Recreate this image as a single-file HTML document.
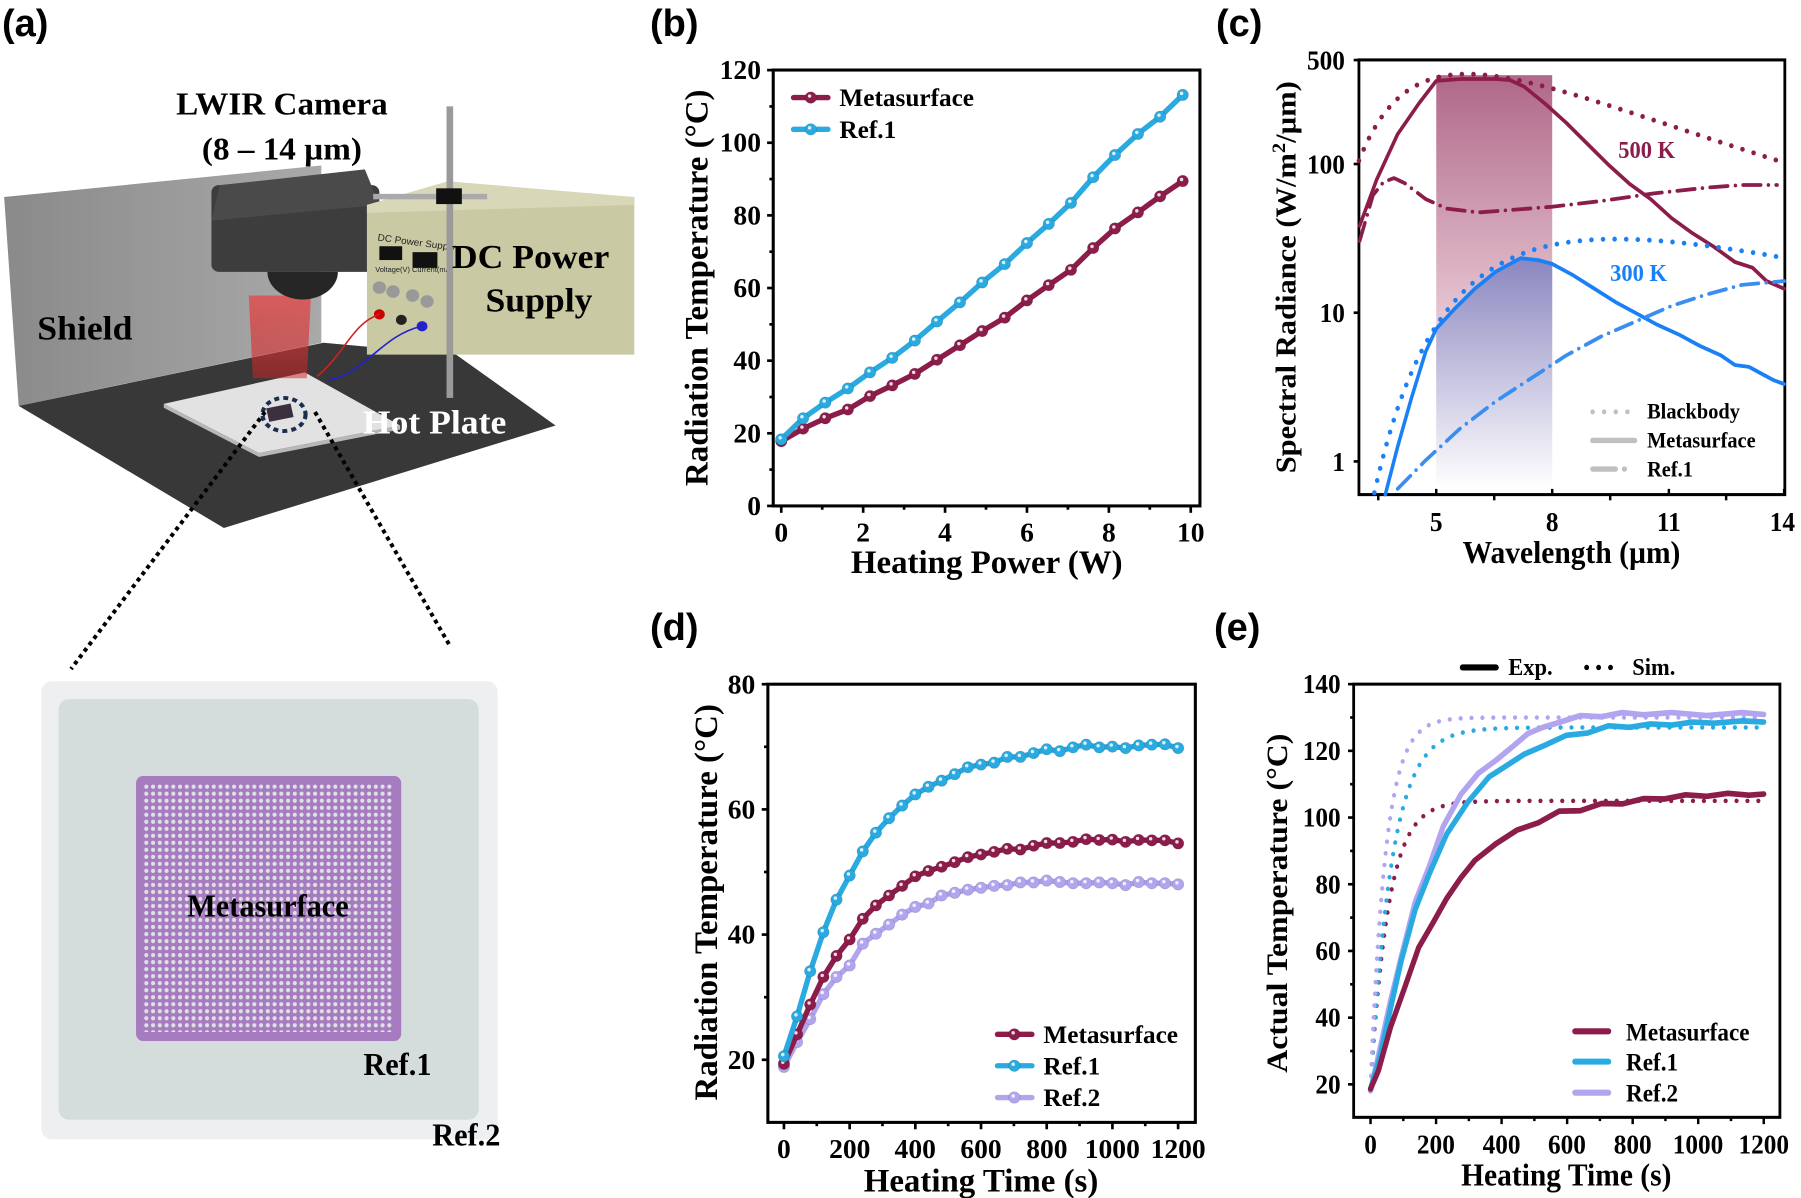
<!DOCTYPE html>
<html><head><meta charset="utf-8"><style>
html,body{margin:0;padding:0;background:#fff}
svg{display:block}
.t{font-family:"Liberation Serif",serif;font-weight:bold;fill:#000}
.L{font-family:"Liberation Sans",sans-serif;font-weight:bold;fill:#000;font-size:38px}
</style></head><body>
<svg id="s" width="1801" height="1198" viewBox="0 0 1801 1198" xmlns="http://www.w3.org/2000/svg">
<defs>
<linearGradient id="wall" x1="0" y1="0" x2="1" y2="0"><stop offset="0" stop-color="#8a8a8a"/><stop offset="1" stop-color="#a9a9a9"/></linearGradient>
<linearGradient id="beam" x1="0" y1="0" x2="0" y2="1"><stop offset="0" stop-color="#e05050" stop-opacity=".85"/><stop offset="1" stop-color="#d02020" stop-opacity=".5"/></linearGradient>
<linearGradient id="band" x1="0" y1="0" x2="0" y2="1"><stop offset="0" stop-color="#b06888"/><stop offset=".6" stop-color="#e8c8d4"/><stop offset="1" stop-color="#ffffff"/></linearGradient>
<linearGradient id="bandb" x1="0" y1="0" x2="0" y2="1"><stop offset="0" stop-color="#8282c0"/><stop offset="1" stop-color="#ffffff"/></linearGradient>
<pattern id="dots" x="415" y="400" width="19.6" height="19.6" patternUnits="userSpaceOnUse"><circle cx="9.8" cy="9.8" r="6" fill="#dde2e4"/></pattern>
</defs>

<text class="L" x="2" y="36">(a)</text>
<text class="L" x="650" y="36">(b)</text>
<text class="L" x="1216" y="36">(c)</text>
<text class="L" x="650" y="640">(d)</text>
<text class="L" x="1214" y="640">(e)</text>

<!-- Panel a top -->
<g transform="scale(0.4146,0.394)">
<polygon points="10,500 775,420 775,870 45,1030" fill="url(#wall)"/>
<polygon points="45,1030 780,870 1100,900 1340,1080 540,1340" fill="#383838"/>
<polygon points="395,1025 735,945 965,1080 625,1150" fill="#e2e2e2"/>
<polygon points="395,1025 625,1150 965,1080 965,1090 625,1160 395,1035" fill="#b8b8b8"/>
<polygon points="600,750 750,750 740,960 610,960" fill="url(#beam)"/>
<rect x="510" y="470" width="405" height="220" rx="18" fill="#3d3d3d"/>
<polygon points="530,470 880,430 915,520 510,560" fill="#4a4a4a"/>
<path d="M645,690 A85,70 0 0 0 815,690 Z" fill="#262626"/>
<polygon points="885,520 1530,500 1530,900 885,900" fill="#c9c9a3"/>
<polygon points="885,520 1080,460 1530,500 1530,520 885,540" fill="#d8d8b8"/>
<rect x="915" y="625" width="55" height="35" fill="#111"/>
<rect x="995" y="640" width="60" height="40" fill="#111"/>
<text x="910" y="610" font-family="Liberation Sans" font-size="24" fill="#222" transform="rotate(8 910 610)">DC Power Supply</text>
<text x="905" y="690" font-family="Liberation Sans" font-size="18" fill="#222">Voltage(V) Current(mA)</text>
<circle cx="915" cy="730" r="16" fill="#999"/><circle cx="948" cy="740" r="16" fill="#999"/>
<circle cx="995" cy="750" r="16" fill="#999"/><circle cx="1030" cy="765" r="16" fill="#999"/>
<circle cx="915" cy="798" r="13" fill="#c00"/><circle cx="968" cy="812" r="13" fill="#222"/><circle cx="1018" cy="828" r="13" fill="#22c"/>
<path d="M915,798 C850,820 830,900 765,955" stroke="#c22" stroke-width="4" fill="none"/>
<path d="M1018,828 C920,850 880,950 790,965" stroke="#22c" stroke-width="4" fill="none"/>
<rect x="900" y="492" width="275" height="14" fill="#aaa"/>
<rect x="1077" y="270" width="16" height="740" fill="#9a9a9a"/>
<rect x="1052" y="478" width="62" height="40" fill="#111"/>
<rect x="645" y="1030" width="60" height="35" fill="#3a3040" transform="rotate(-12 675 1047)"/>
<ellipse cx="685" cy="1052" rx="52" ry="42" fill="none" stroke="#1a2f50" stroke-width="10" stroke-dasharray="12 10"/>
<text class="t" x="680" y="290" font-size="80" text-anchor="middle">LWIR Camera</text>
<text class="t" x="680" y="405" font-size="80" text-anchor="middle">(8 – 14 µm)</text>
<text class="t" x="1090" y="680" font-size="86">DC Power</text>
<text class="t" x="1300" y="790" font-size="86" text-anchor="middle">Supply</text>
<text class="t" x="90" y="862" font-size="86">Shield</text>
<text class="t" x="875" y="1100" font-size="86" style="fill:#fff">Hot Plate</text>
</g>
<line x1="265" y1="412" x2="71" y2="669" stroke="#000" stroke-width="4" stroke-dasharray="4 4"/>
<line x1="315" y1="412" x2="450" y2="646" stroke="#000" stroke-width="4" stroke-dasharray="4 4"/>

<!-- Panel a bottom -->
<g transform="translate(0,640) scale(0.3444,0.358)">
<rect x="120" y="115" width="1325" height="1280" rx="30" fill="#eeeff0"/>
<rect x="170" y="165" width="1220" height="1175" rx="30" fill="#d5dcdc"/>
<rect x="395" y="380" width="770" height="740" rx="20" fill="#a77bc0"/>
<rect x="415" y="400" width="725" height="695" fill="url(#dots)"/>
<text class="t" x="778" y="772" font-size="88" text-anchor="middle">Metasurface</text>
<text class="t" x="1055" y="1215" font-size="88">Ref.1</text>
<text class="t" x="1255" y="1412" font-size="88">Ref.2</text>
</g>

<!-- Panel b -->
<g id="pb" transform="translate(650,0) scale(0.3827)">
<rect x="322" y="183" width="1115" height="1139" fill="none" stroke="#000" stroke-width="8"/>
<g class="t" font-size="72" text-anchor="end">
<text x="290" y="206">120</text><text x="290" y="396">100</text><text x="290" y="586">80</text><text x="290" y="776">60</text><text x="290" y="966">40</text><text x="290" y="1156">20</text><text x="290" y="1346">0</text></g>
<g class="t" font-size="72" text-anchor="middle">
<text x="343" y="1415">0</text><text x="557" y="1415">2</text><text x="771" y="1415">4</text><text x="985" y="1415">6</text><text x="1199" y="1415">8</text><text x="1413" y="1415">10</text></g>
<text class="t" font-size="86" text-anchor="middle" transform="translate(150,752) rotate(-90)">Radiation Temperature (°C)</text>
<text class="t" font-size="86" text-anchor="middle" x="880" y="1497">Heating Power (W)</text>
<text class="t" font-size="66" x="495" y="277">Metasurface</text>
<text class="t" font-size="66" x="495" y="360">Ref.1</text>
</g>

<!-- Panel c -->
<g id="pc" transform="translate(1250,-3) scale(0.3514,0.3813)">
<g id="cband"></g>
<rect x="310" y="165" width="1212" height="1140" fill="none" stroke="#000" stroke-width="8"/>
<g class="t" font-size="72" text-anchor="end">
<text x="270" y="190">500</text><text x="270" y="463">100</text><text x="270" y="853">10</text><text x="270" y="1243">1</text></g>
<g class="t" font-size="72" text-anchor="middle">
<text x="530" y="1400">5</text><text x="860" y="1400">8</text><text x="1192" y="1400">11</text><text x="1515" y="1400">14</text></g>
<text class="t" font-size="80" text-anchor="middle" transform="translate(130,735) rotate(-90)">Spectral Radiance (W/m<tspan font-size="54" dy="-30">2</tspan><tspan dy="30">/µm)</tspan></text>
<text class="t" font-size="84" text-anchor="middle" x="915" y="1485">Wavelength (µm)</text>
<text class="t" font-size="64" x="1048" y="422" style="fill:#8c1d4b">500 K</text>
<text class="t" font-size="64" x="1025" y="745" style="fill:#1a80f5">300 K</text>
<text class="t" font-size="58" x="1130" y="1105">Blackbody</text>
<text class="t" font-size="58" x="1130" y="1182">Metasurface</text>
<text class="t" font-size="58" x="1130" y="1258">Ref.1</text>
</g>

<!-- Panel d -->
<g id="pd" transform="translate(650,600) scale(0.3827)">
<rect x="308" y="220" width="1117" height="1145" fill="none" stroke="#000" stroke-width="8"/>
<g class="t" font-size="72" text-anchor="end">
<text x="275" y="244">80</text><text x="275" y="571">60</text><text x="275" y="898">40</text><text x="275" y="1225">20</text></g>
<g class="t" font-size="72" text-anchor="middle">
<text x="350" y="1458">0</text><text x="522" y="1458">200</text><text x="693" y="1458">400</text><text x="865" y="1458">600</text><text x="1037" y="1458">800</text><text x="1208" y="1458">1000</text><text x="1380" y="1458">1200</text></g>
<text class="t" font-size="86" text-anchor="middle" transform="translate(175,790) rotate(-90)">Radiation Temperature (°C)</text>
<text class="t" font-size="86" text-anchor="middle" x="865" y="1545">Heating Time (s)</text>
<text class="t" font-size="66" x="1028" y="1158">Metasurface</text>
<text class="t" font-size="66" x="1028" y="1240">Ref.1</text>
<text class="t" font-size="66" x="1028" y="1322">Ref.2</text>
</g>

<!-- Panel e -->
<g id="pe" transform="translate(1250,600) scale(0.3514,0.379)">
<rect x="295" y="222" width="1213" height="1143" fill="none" stroke="#000" stroke-width="8"/>
<g class="t" font-size="72" text-anchor="end">
<text x="258" y="246">140</text><text x="258" y="422">120</text><text x="258" y="598">100</text><text x="258" y="774">80</text><text x="258" y="950">60</text><text x="258" y="1126">40</text><text x="258" y="1302">20</text></g>
<g class="t" font-size="72" text-anchor="middle">
<text x="343" y="1460">0</text><text x="529" y="1460">200</text><text x="716" y="1460">400</text><text x="902" y="1460">600</text><text x="1089" y="1460">800</text><text x="1275" y="1460">1000</text><text x="1462" y="1460">1200</text></g>
<text class="t" font-size="84" text-anchor="middle" transform="translate(105,800) rotate(-90)">Actual Temperature (°C)</text>
<text class="t" font-size="84" text-anchor="middle" x="900" y="1545">Heating Time (s)</text>
<text class="t" font-size="64" x="735" y="198">Exp.</text>
<text class="t" font-size="64" x="1088" y="198">Sim.</text>
<text class="t" font-size="66" x="1070" y="1162">Metasurface</text>
<text class="t" font-size="66" x="1070" y="1242">Ref.1</text>
<text class="t" font-size="66" x="1070" y="1323">Ref.2</text>
</g>
</svg>
<script>
const NS="http://www.w3.org/2000/svg";
function add(g,tag,attrs,first){const e=document.createElementNS(NS,tag);for(const k in attrs)e.setAttribute(k,attrs[k]);if(first)g.insertBefore(e,g.firstChild);else g.appendChild(e);return e;}
function P(p){return 'M'+p.map(q=>q[0].toFixed(1)+','+q[1].toFixed(1)).join('L');}
function line(g,pts,col,w,dash){const a={d:P(pts),fill:'none',stroke:col,'stroke-width':w,'stroke-linejoin':'round','stroke-linecap':'round'};if(dash)a['stroke-dasharray']=dash;return add(g,'path',a);}
function marks(g,pts,col){pts.forEach(p=>{add(g,'circle',{cx:p[0],cy:p[1],r:15,fill:col,stroke:'rgba(0,0,0,0.15)','stroke-width':2});add(g,'circle',{cx:p[0]-3,cy:p[1]-4,r:4.5,fill:'#fff','fill-opacity':.85});});}
function tick(g,x1,y1,x2,y2){add(g,'line',{x1,y1,x2,y2,stroke:'#000','stroke-width':7});}
const M='#8c1d4b',R1='#29aae1',R2='#b3a4f0';

(function(){const g=document.getElementById('pb');
for(let v=0;v<=120;v+=20){const y=1322-v*9.49;tick(g,322,y,306,y);} for(let v=10;v<120;v+=20){const y=1322-v*9.49;tick(g,322,y,312,y);}
for(let v=0;v<=10;v++){const x=343+107*v;tick(g,x,1322,x,v%2?1332:1340);}
const xs=[343,400,458,517,575,633,692,750,810,868,927,985,1042,1100,1158,1215,1275,1333,1392];
const m=[1153,1120,1093,1070,1035,1007,977,940,902,865,830,785,745,705,648,597,555,513,473];
const r=[1148,1093,1052,1015,973,935,890,840,790,738,690,635,585,530,463,405,350,305,248];
const pm=xs.map((x,i)=>[x,m[i]]),pr=xs.map((x,i)=>[x,r[i]]);
line(g,pm,M,14);marks(g,pm,M);line(g,pr,R1,14);marks(g,pr,R1);
line(g,[[375,255],[465,255]],M,14);marks(g,[[420,255]],M);
line(g,[[375,338],[465,338]],R1,14);marks(g,[[420,338]],R1);
})();

(function(){const g=document.getElementById('pc');
const X=w=>530+110*(w-5),Y=v=>1218-390*Math.log10(v);
function bb(l,T){return 3.7418e8/(Math.pow(l,5)*(Math.exp(14388/(l*T))-1));}
function bbpts(T){const a=[];for(let l=3.0;l<=14.001;l+=0.05){const v=bb(l,T);let y=Y(v);if(y>1305)continue;a.push([X(l),y]);}return a;}
const ms=[[312,600],[360,480],[420,360],[480,280],[530,220],[600,215],[700,215],[740,218],[780,235],[840,280],[900,330],[960,385],[1020,440],[1080,490],[1140,530],[1200,580],[1260,620],[1320,655],[1380,695],[1430,710],[1470,745],[1520,765]];
const rs=[[312,640],[350,520],[380,485],[410,475],[440,488],[500,530],[560,555],[650,565],[750,558],[860,550],[1000,535],[1150,515],[1300,500],[1400,493],[1500,493]];
const mb=[[385,1305],[420,1180],[460,1050],[500,930],[530,870],[580,820],[640,765],[700,720],[770,685],[820,690],[860,700],[920,730],[980,765],[1040,800],[1100,830],[1160,860],[1220,885],[1280,915],[1340,940],[1380,965],[1420,970],[1460,990],[1490,1005],[1520,1015]];
const rb=[[420,1290],[500,1215],[600,1130],[700,1060],[800,1000],[900,940],[1000,890],[1100,850],[1200,810],[1300,780],[1400,755],[1520,745]];
const cb=document.getElementById('cband');
add(cb,'rect',{x:530,y:205,width:330,height:1085,fill:'url(#band)'});
const under=[[530,870],[580,820],[640,765],[700,720],[770,685],[820,690],[860,700],[860,1290],[530,1290]];
add(cb,'path',{d:P(under)+'Z',fill:'url(#bandb)','fill-opacity':.9});
[365,530,695,860,1025,1192,1355,1520].forEach((x,i)=>tick(g,x,1305,x,i%2?1290:1320));
[Y(1),Y(10),Y(100),Y(500)].forEach(y=>tick(g,310,y,295,y));
line(g,bbpts(500),M,13,'0 33');
line(g,ms,M,10);
line(g,rs,M,10,'50 22 0 22');
line(g,bbpts(300),'#1a80f5',13,'0 33');
line(g,mb,'#1a80f5',10);
line(g,rb,'#3a8ef0',10,'50 22 0 22');
line(g,[[975,1088],[1095,1088]],'#c0c0c0',13,'0 33');
line(g,[[975,1163],[1095,1163]],'#c0c0c0',14);
line(g,[[975,1238],[1040,1238]],'#c0c0c0',14);line(g,[[1065,1238],[1066,1238]],'#c0c0c0',14);
})();

(function(){const g=document.getElementById('pd');
const Y=v=>1365-16.357*(v-10);
for(let v=20;v<=80;v+=20)tick(g,308,Y(v),292,Y(v));for(let v=30;v<80;v+=20)tick(g,308,Y(v),298,Y(v));
for(let t=0;t<=1200;t+=100){const x=350+0.8583*t;tick(g,x,1365,x,t%200?1375:1383);}
const r=[1192,1088,970,868,783,720,657,608,570,537,508,488,472,455,437,430,425,410,410,400,390,395,385,378,385,383,387,380,378,377,387];
const m=[1212,1135,1057,985,930,887,833,798,772,747,722,708,697,685,672,665,658,650,652,642,635,635,632,625,627,626,632,627,628,628,636];
const q=[1220,1155,1095,1030,985,955,898,872,848,822,802,793,772,765,757,752,747,745,738,738,733,737,740,740,738,740,745,737,740,740,743];
const mk=a=>a.map((y,i)=>[350+0.8583*40*i,y]);
[[q,R2],[m,M],[r,R1]].forEach(([a,c])=>{const p=mk(a);line(g,p,c,14);marks(g,p,c);});
[[1135,M],[1217,R1],[1300,R2]].forEach(([y,c])=>{line(g,[[908,y],[998,y]],c,14);marks(g,[[952,y]],c);});
})();

(function(){const g=document.getElementById('pe');
const X=t=>343+0.9325*t,Y=v=>1278-8.8*(v-20);
for(let v=20;v<=140;v+=20)tick(g,295,Y(v),279,Y(v));for(let v=30;v<140;v+=20)tick(g,295,Y(v),285,Y(v));
for(let t=0;t<=1200;t+=100){const x=X(t);tick(g,x,1365,x,t%200?1375:1383);}
function sim(Tf,tau){const a=[];for(let t=0;t<=1200;t+=2){a.push([X(t),Y(Tf-(Tf-19)*Math.exp(-t/tau))]);}return a;}
line(g,sim(105,55),M,12,'0 31');
line(g,sim(127,66),R1,12,'0 31');
line(g,sim(130,46),R2,12,'0 31');
const jig=a=>a.map((p,i)=>[p[0],p[1]+(i%2?3:-3)*(i>0&&i<a.length-1?1:0)]);
const m=[[343,1290],[365,1240],[400,1130],[440,1020],[480,920],[520,850],[560,790],[600,730],[640,690],[700,640],[760,610],[820,585],[880,560],[940,553],[1000,540],[1060,535],[1120,527],[1180,522],[1240,517],[1300,515],[1360,513],[1420,512],[1462,512]];
const r1=[[343,1290],[370,1200],[400,1080],[430,950],[470,820],[510,720],[560,620],[620,530],[680,470],[720,440],[780,410],[840,380],[900,360],[960,348],[1020,335],[1080,333],[1140,330],[1200,327],[1260,325],[1320,322],[1400,322],[1462,322]];
const r2=[[343,1295],[370,1180],[400,1060],[430,940],[470,800],[510,700],[550,600],[600,510],[650,460],[700,420],[760,380],[790,350],[830,340],[880,320],[940,308],[1000,305],[1060,300],[1120,300],[1200,300],[1300,302],[1400,300],[1462,302]];
line(g,jig(r2),R2,15);line(g,jig(r1),R1,15);line(g,jig(m),M,15);
line(g,[[605,178],[700,178]],'#000',16);
line(g,[[958,178],[1030,178]],'#000',14,'0 34');
[[1138,M],[1218,R1],[1300,R2]].forEach(([y,c])=>line(g,[[925,y],[1020,y]],c,16));
})();
</script>
</body></html>
